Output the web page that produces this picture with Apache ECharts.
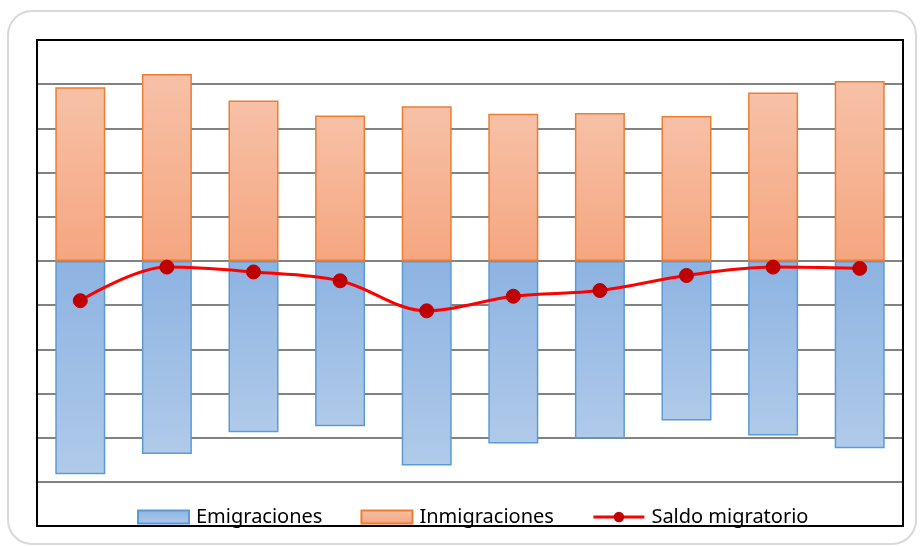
<!DOCTYPE html>
<html>
<head>
<meta charset="utf-8">
<script src="https://cdn.jsdelivr.net/npm/echarts@6/dist/echarts.min.js"></script>
<style>
  html, body { margin: 0; padding: 0; background: #ffffff; }
  #chart { width: 920px; height: 547px; }
</style>
</head>
<body>
<div id="chart"></div>
<script>
// Ten periods, values in thousands of people
const periods = ['1', '2', '3', '4', '5', '6', '7', '8', '9', '10'];
const inmigraciones = [39.3, 42.3, 36.3, 32.9, 35.0, 33.3, 33.5, 32.8, 38.1, 40.7];
const emigraciones = [-48.3, -43.7, -38.8, -37.4, -46.3, -41.3, -40.2, -36.1, -39.5, -42.4];
const saldo = [-9.0, -1.4, -2.5, -4.5, -11.3, -8.0, -6.7, -3.3, -1.4, -1.7];

const chart = echarts.init(document.getElementById('chart'), null, { renderer: 'canvas' });

const orangeFill = new echarts.graphic.LinearGradient(0, 0, 0, 1, [
  { offset: 0, color: '#F7C1A7' },
  { offset: 1, color: '#F5A680' }
]);
const blueFill = new echarts.graphic.LinearGradient(0, 0, 0, 1, [
  { offset: 0, color: '#8DB3E2' },
  { offset: 1, color: '#B0CAE9' }
]);

chart.setOption({
  animation: false,
  backgroundColor: '#ffffff',
  textStyle: { fontFamily: '"Noto Sans", sans-serif' },
  grid: { left: 37, right: 17, top: 40, bottom: 21, containLabel: false },
  xAxis: {
    type: 'category',
    data: periods,
    boundaryGap: true,
    axisLine: { show: false },
    axisTick: { show: false },
    axisLabel: { show: false },
    splitLine: { show: false }
  },
  yAxis: {
    type: 'value',
    min: -60,
    max: 50,
    interval: 10,
    axisLine: { show: false },
    axisTick: { show: false },
    axisLabel: { show: false },
    splitLine: { show: true, lineStyle: { color: '#595959', width: 1.5 } }
  },
  legend: {
    left: 137,
    top: 507,
    padding: 0,
    itemWidth: 51,
    itemHeight: 13,
    itemGap: 38,
    textStyle: {
      fontSize: 20,
      lineHeight: 20,
      color: '#000000',
      fontFamily: '"Noto Sans", sans-serif',
      padding: [0, 0, 0, 2]
    },
    data: [
      { name: 'Emigraciones', icon: 'rect' },
      { name: 'Inmigraciones', icon: 'rect' },
      { name: 'Saldo migratorio', lineStyle: { width: 3 } }
    ]
  },
  graphic: [
    {
      type: 'rect',
      z: -10,
      shape: { x: 8, y: 11, width: 908, height: 533, r: 24 },
      style: { fill: 'none', stroke: '#D9D9D9', lineWidth: 2 }
    },
    {
      type: 'rect',
      z: 100,
      shape: { x: 37, y: 40, width: 866, height: 486 },
      style: { fill: 'none', stroke: '#000000', lineWidth: 2 }
    }
  ],
  series: [
    {
      name: 'Emigraciones',
      type: 'bar',
      stack: 'flujos',
      barWidth: 50,
      data: emigraciones,
      itemStyle: { color: blueFill, borderColor: '#5B9BD5', borderWidth: 1.5 }
    },
    {
      name: 'Inmigraciones',
      type: 'bar',
      stack: 'flujos',
      barWidth: 50,
      data: inmigraciones,
      itemStyle: { color: orangeFill, borderColor: '#ED7D31', borderWidth: 1.5 }
    },
    {
      name: 'Saldo migratorio',
      type: 'line',
      data: saldo,
      smooth: 0.35,
      symbol: 'circle',
      symbolSize: 14,
      z: 10,
      lineStyle: { color: '#FF0000', width: 3 },
      itemStyle: { color: '#C00000', borderColor: '#C00000' }
    }
  ]
});
</script>
</body>
</html>
